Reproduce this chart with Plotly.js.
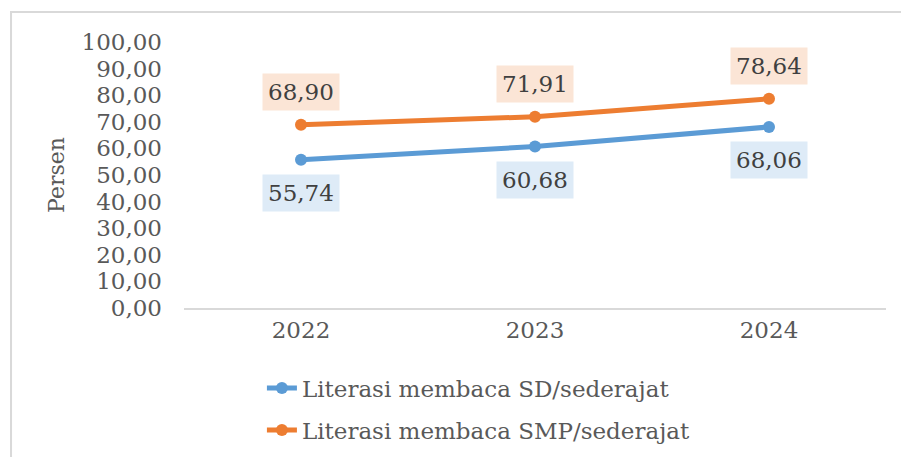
<!DOCTYPE html>
<html>
<head>
<meta charset="utf-8">
<script src="https://cdn.plot.ly/plotly-3.0.1.min.js"></script>
<style>html,body{margin:0;padding:0;background:#fff;}#chart{width:901px;height:457px;}</style>
</head>
<body>
<div id="chart"></div>
<script>
const years = ['2022', '2023', '2024'];
const sdValues = [55.74, 60.68, 68.06];
const smpValues = [68.90, 71.91, 78.64];
const sdName = 'Literasi membaca SD/sederajat';
const smpName = 'Literasi membaca SMP/sederajat';
const yTicks = [0, 10, 20, 30, 40, 50, 60, 70, 80, 90, 100];

const FONT = 'DejaVu Serif, Liberation Serif, serif';
const fmt = v => v.toFixed(2).replace('.', ',');

const blue = '#5B9BD5', orange = '#ED7D31';

const traces = [
  {x: years, y: sdValues, name: sdName, type: 'scatter', mode: 'lines+markers',
   line: {color: blue, width: 5}, marker: {color: blue, size: 12}, legend: 'legend'},
  {x: years, y: smpValues, name: smpName, type: 'scatter', mode: 'lines+markers',
   line: {color: orange, width: 5}, marker: {color: orange, size: 12}, legend: 'legend2'}
];

const annotations = [];
years.forEach((yr, i) => {
  annotations.push({x: i, y: sdValues[i], xref: 'x', yref: 'y', text: fmt(sdValues[i]), showarrow: false, yshift: -33,
    bgcolor: '#DEEBF7', borderpad: 5, font: {family: FONT, size: 23, color: '#404040'}});
  annotations.push({x: i, y: smpValues[i], xref: 'x', yref: 'y', text: fmt(smpValues[i]), showarrow: false, yshift: 33,
    bgcolor: '#FBE5D6', borderpad: 5, font: {family: FONT, size: 23, color: '#404040'}});
});

const layout = {
  width: 901, height: 457,
  margin: {l: 184, r: 15, t: 42, b: 149, autoexpand: false},
  paper_bgcolor: '#ffffff', plot_bgcolor: '#ffffff',
  font: {family: FONT, color: '#595959'},
  xaxis: {type: 'category', range: [-0.5, 2.5], showgrid: false, zeroline: false,
    showline: true, linecolor: '#D9D9D9', linewidth: 2, ticks: '',
    tickfont: {family: FONT, size: 23, color: '#595959'}},
  yaxis: {range: [0, 100], tickvals: yTicks, ticktext: yTicks.map(fmt), showgrid: false,
    zeroline: false, showline: false, ticks: '', ticklabelstandoff: 21,
    tickfont: {family: FONT, size: 23, color: '#595959'},
    title: {text: 'Persen', standoff: 10, font: {family: FONT, size: 22, color: '#595959'}}},
  showlegend: true,
  legend: {x: 0.111, y: -0.3008, xanchor: 'left', yanchor: 'middle', orientation: 'v',
    bgcolor: 'rgba(0,0,0,0)', font: {family: FONT, size: 23, color: '#595959'}},
  legend2: {x: 0.111, y: -0.4586, xanchor: 'left', yanchor: 'middle', orientation: 'v',
    bgcolor: 'rgba(0,0,0,0)', font: {family: FONT, size: 23, color: '#595959'}},
  annotations: annotations,
  shapes: [{type: 'rect', xref: 'paper', yref: 'paper', x0: -0.2464, x1: 1.03, y0: -0.9, y1: 1.1128,
    line: {color: '#D9D9D9', width: 2}, fillcolor: 'rgba(0,0,0,0)', layer: 'below'}]
};

Plotly.newPlot('chart', traces, layout, {displayModeBar: false, staticPlot: true});
</script>
</body>
</html>
